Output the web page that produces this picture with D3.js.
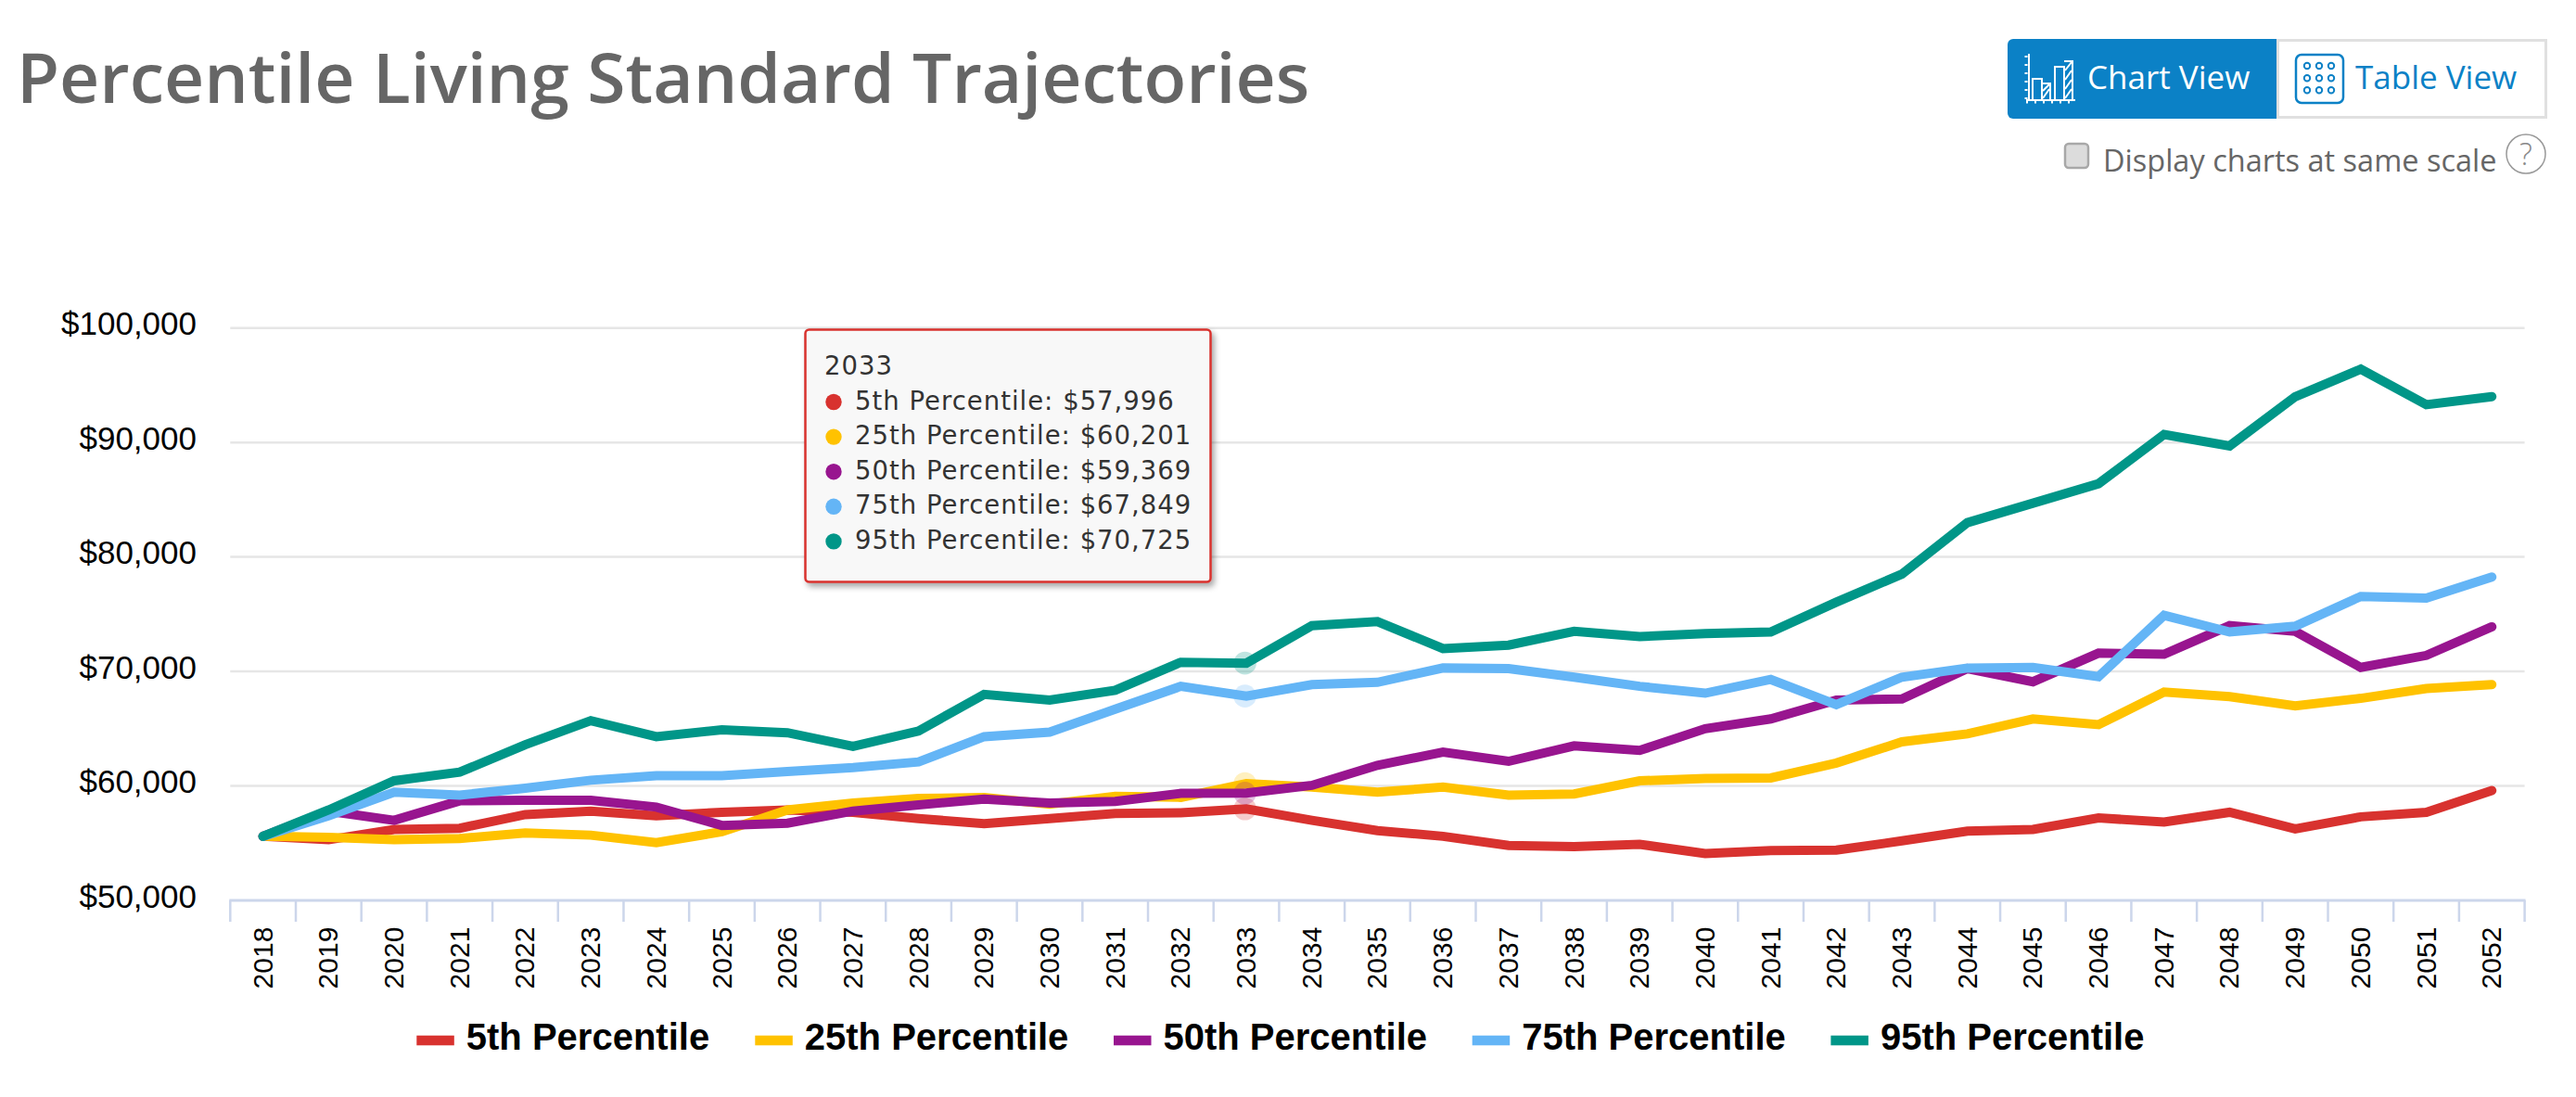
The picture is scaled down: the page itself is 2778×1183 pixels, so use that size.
<!DOCTYPE html>
<html>
<head>
<meta charset="utf-8">
<title>Percentile Living Standard Trajectories</title>
<script src="https://cdn.jsdelivr.net/npm/d3@7"></script>
<style>
html, body { margin: 0; padding: 0; background: #fff; }
svg { display: block; }
</style>
</head>
<body>
<svg id="chart" width="2778" height="1183"></svg>
<script>
var years = d3.range(2018, 2053);
var names = ["5th Percentile", "25th Percentile", "50th Percentile", "75th Percentile", "95th Percentile"];
var colors = ["#d8322f", "#ffc200", "#98158f", "#64b5f6", "#009688"];
var yTicks = [50000, 60000, 70000, 80000, 90000, 100000];

var p5 = [55600, 55300, 56200, 56300, 57500, 57800, 57400, 57700, 57900, 57700, 57150, 56700, 57150, 57600, 57650, 57996,
    57000, 56100, 55600, 54800, 54700, 54900, 54100, 54350, 54400, 55200, 56050, 56200, 57200, 56850, 57700, 56250, 57300, 57700, 59600];
var p25 = [55600, 55500, 55300, 55400, 55900, 55700, 55050, 56000, 57900, 58500, 58900, 59000, 58400, 59100, 59000, 60201,
    59900, 59450, 59900, 59200, 59300, 60450, 60650, 60700, 62000, 63850, 64550, 65850, 65350, 68200, 67800, 67000, 67650, 68500, 68850];
var p50 = [55600, 57800, 57000, 58700, 58750, 58750, 58150, 56550, 56750, 57800, 58350, 58850, 58500, 58650, 59350, 59369,
    60050, 61800, 62950, 62150, 63500, 63100, 65000, 65850, 67500, 67600, 70250, 69100, 71600, 71500, 74000, 73500, 70350, 71400, 73900];
var p75 = [55600, 57400, 59450, 59200, 59800, 60500, 60900, 60900, 61250, 61600, 62100, 64300, 64700, 66700, 68700, 67849,
    68850, 69050, 70300, 70250, 69500, 68700, 68100, 69300, 67100, 69500, 70300, 70350, 69550, 74900, 73450, 73950, 76550, 76400, 78250];
var p95 = [55600, 57900, 60450, 61200, 63600, 65700, 64300, 64900, 64650, 63450, 64800, 68000, 67500, 68350, 70800, 70725,
    74000, 74350, 72000, 72300, 73500, 73050, 73300, 73450, 76050, 78500, 83000, 84700, 86400, 90700, 89700, 94000, 96400, 93300, 94000];
var seriesValues = [p5, p25, p50, p75, p95];
var hoverYear = 2033;

var svg = d3.select("#chart");
var left = 248.3, right = 2722.6, bottom = 971, top100 = 353.7;

var x = d3.scaleBand().domain(years).range([left, right]);
var y = d3.scaleLinear().domain([50000, 100000]).range([bottom, top100]);
var fmt = d3.format("$,");

// title
svg.append("text").attr("x", 18).attr("y", 111)
    .attr("font-family", "'Open Sans'").attr("font-weight", 600).attr("font-size", 75)
    .attr("fill", "#666666").text("Percentile Living Standard Trajectories");

// grid lines
svg.append("g").selectAll("line").data(yTicks.slice(1)).enter().append("line")
    .attr("x1", left).attr("x2", right)
    .attr("y1", function (d) { return y(d); }).attr("y2", function (d) { return y(d); })
    .attr("stroke", "#e6e6e6").attr("stroke-width", 2.5);

// y axis
var yAxis = svg.append("g").attr("transform", "translate(212,0)")
    .call(d3.axisLeft(y).tickValues(yTicks).tickSize(0).tickPadding(0).tickFormat(fmt));
yAxis.select(".domain").remove();
yAxis.selectAll("text").attr("font-family", "'Liberation Sans'").attr("font-size", 35)
    .attr("fill", "#000").attr("dy", null).attr("y", 7);

// x axis
var xAxis = svg.append("g").attr("transform", "translate(0," + bottom + ")")
    .call(d3.axisBottom(x).tickSize(0).tickFormat(d3.format("d")));
xAxis.select(".domain").remove();
xAxis.selectAll("text").attr("font-family", "'Liberation Sans'").attr("font-size", 30).attr("fill", "#000")
    .attr("text-anchor", "middle").attr("dy", null)
    .attr("transform", "translate(10,62) rotate(-90)").attr("y", 0).attr("x", 0);

var edges = years.map(function (d) { return x(d); }).concat([right]);
svg.append("g").selectAll("line").data(edges).enter().append("line")
    .attr("x1", function (d) { return d; }).attr("x2", function (d) { return d; })
    .attr("y1", bottom).attr("y2", 994)
    .attr("stroke", "#ccd6eb").attr("stroke-width", 2.5);
svg.append("line").attr("x1", left - 1).attr("x2", right + 1).attr("y1", bottom).attr("y2", bottom)
    .attr("stroke", "#ccd6eb").attr("stroke-width", 3);

// series
var cx = function (d, i) { return x(years[i]) + x.bandwidth() / 2; };
var line = d3.line().x(cx).y(function (d) { return y(d); });
var hoverIndex = years.indexOf(hoverYear);

seriesValues.forEach(function (values, s) {
    svg.append("circle").attr("cx", cx(null, hoverIndex) - 1.5).attr("cy", y(values[hoverIndex]))
        .attr("r", 12.3).attr("fill", colors[s]).attr("opacity", 0.25);
    svg.append("path").attr("d", line(values)).attr("fill", "none")
        .attr("stroke", colors[s]).attr("stroke-width", 10)
        .attr("stroke-linecap", "round").attr("stroke-linejoin", "miter");
});

// legend
var legendStep = 386.7;
names.forEach(function (name, i) {
    var sx = i === 0 ? 449.3 : 814.3 + (i - 1) * legendStep;
    svg.append("rect").attr("x", sx).attr("y", 1116.7).attr("width", 40.5).attr("height", 10.6).attr("fill", colors[i]);
    svg.append("text").attr("x", sx + 53.5).attr("y", 1132)
        .attr("font-family", "'Liberation Sans'").attr("font-weight", 700).attr("font-size", 40)
        .attr("fill", "#000").text(name);
});

// tooltip
var defs = svg.append("defs");
var shadow = defs.append("filter").attr("id", "tipShadow").attr("x", "-5%").attr("y", "-5%").attr("width", "110%").attr("height", "110%");
shadow.append("feDropShadow").attr("dx", 3).attr("dy", 4).attr("stdDeviation", 3)
    .attr("flood-color", "#000").attr("flood-opacity", 0.35);

var tip = svg.append("g");
tip.append("rect").attr("x", 868.5).attr("y", 355.5).attr("width", 437).attr("height", 272).attr("rx", 4)
    .attr("fill", "#f8f8f8").attr("stroke", "#d8322f").attr("stroke-width", 2.5).attr("filter", "url(#tipShadow)");
tip.append("text").attr("x", 889).attr("y", 404)
    .attr("font-family", "'DejaVu Sans'").attr("font-size", 27.5).attr("letter-spacing", 1)
    .attr("fill", "#333").text(hoverYear);
names.forEach(function (name, i) {
    var base = 441.5 + i * 37.6;
    tip.append("circle").attr("cx", 899).attr("cy", base - 8).attr("r", 8.7).attr("fill", colors[i]);
    tip.append("text").attr("x", 922).attr("y", base)
        .attr("font-family", "'DejaVu Sans'").attr("font-size", 27.5).attr("letter-spacing", 1)
        .attr("fill", "#333").text(name + ": " + fmt(seriesValues[i][hoverIndex]));
});

// view buttons
var blue = "#0b81c6";
svg.append("path").attr("d", "M2165,48 a6,6 0 0 1 6,-6 H2455 V128 H2171 a6,6 0 0 1 -6,-6 Z").attr("fill", blue);
svg.append("rect").attr("x", 2456.5).attr("y", 43.5).attr("width", 289).attr("height", 83)
    .attr("fill", "#fff").attr("stroke", "#e0e0e0").attr("stroke-width", 3);
svg.append("text").attr("x", 2251).attr("y", 96).attr("font-family", "'Open Sans'").attr("font-size", 35)
    .attr("fill", "#fff").text("Chart View");
svg.append("text").attr("x", 2540).attr("y", 96).attr("font-family", "'Open Sans'").attr("font-size", 35)
    .attr("fill", blue).text("Table View");

// chart icon
var icon = svg.append("g").attr("fill", "none").attr("stroke", "#fff").attr("stroke-width", 2);
icon.append("path").attr("d", "M2188,58 V108 M2185,108 H2238");
icon.append("path").attr("d", "M2192,108 V85 H2202 V108 M2216,108 V72 H2226 V108");
icon.append("path").attr("d", "M2202,90 H2211 V108 H2202 M2226,66 H2235 V108 H2226");
icon.append("path").attr("d", "M2203,106 L2210,96 M2203,98 L2210,91 M2227,106 L2234,96 M2227,96 L2234,86 M2227,86 L2234,76 M2227,76 L2234,67");
icon.append("path").attr("stroke-width", 3).attr("stroke-dasharray", "2 7").attr("d", "M2185,110 H2238 M2185,60 V108");

// table icon
svg.append("rect").attr("x", 2476).attr("y", 59).attr("width", 51).attr("height", 52).attr("rx", 6)
    .attr("fill", "none").attr("stroke", blue).attr("stroke-width", 2.5);
[71, 84.3, 97.3].forEach(function (cy) {
    [2488, 2501, 2514].forEach(function (ix) {
        svg.append("circle").attr("cx", ix).attr("cy", cy).attr("r", 3.2)
            .attr("fill", "none").attr("stroke", blue).attr("stroke-width", 2);
    });
});

// same scale checkbox
svg.append("rect").attr("x", 2227).attr("y", 155).attr("width", 25).attr("height", 26).attr("rx", 4)
    .attr("fill", "#dcdcdc").attr("stroke", "#a8a8a8").attr("stroke-width", 2.5);
svg.append("text").attr("x", 2268).attr("y", 185).attr("font-family", "'Open Sans'").attr("font-size", 32.5)
    .attr("fill", "#666").text("Display charts at same scale");
svg.append("circle").attr("cx", 2724).attr("cy", 166).attr("r", 21).attr("fill", "#fff")
    .attr("stroke", "#999").attr("stroke-width", 1.5);
svg.append("text").attr("x", 2724).attr("y", 178).attr("text-anchor", "middle")
    .attr("font-family", "'Open Sans'").attr("font-weight", 300).attr("font-size", 33).attr("fill", "#888").text("?");
</script>
</body>
</html>
